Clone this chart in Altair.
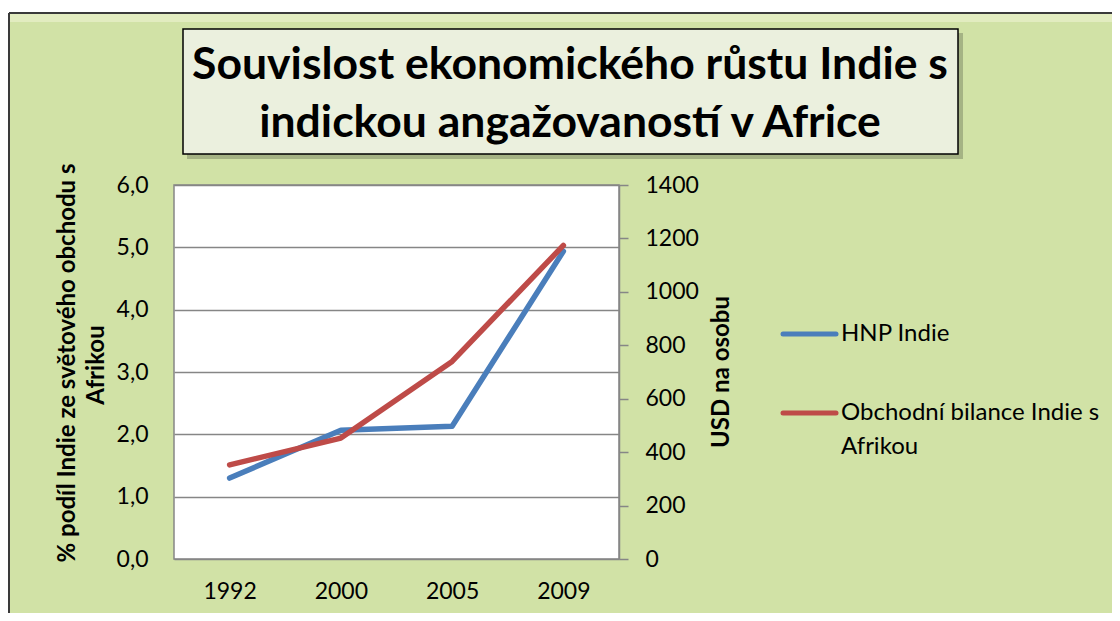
import altair as alt
import pandas as pd

# ---- data ----
YEARS = ["1992", "2000", "2005", "2009"]
HNP_USD = [303, 482, 497, 1152]          # HNP Indie (right axis, USD na osobu)
SHARE_PCT = [1.51, 1.94, 3.17, 5.03]     # Obchodní bilance Indie s Afrikou (left axis, %)
SERIES = ["HNP Indie", "Obchodní bilance Indie s Afrikou"]
SERIES_LABEL_LINES = [["HNP Indie"], ["Obchodní bilance Indie s", "Afrikou"]]
COLORS = ["#4A7EBB", "#BE4B48"]
LEFT_TICKS = [0, 1, 2, 3, 4, 5, 6]
RIGHT_TICKS = [0, 200, 400, 600, 800, 1000, 1200, 1400]
TITLE_LINES = ["Souvislost ekonomického růstu Indie s", "indickou angažovaností v Africe"]
LEFT_TITLE = ["% podíl Indie ze světového obchodu s", "Afrikou"]
RIGHT_TITLE = "USD na osobu"

FONT = "Lato"
GRID = "#868686"
BG = "#D1E2A6"

df = pd.DataFrame({"year": YEARS, "hnp": HNP_USD, "share": SHARE_PCT})

W, H = 445, 374


def one(text):
    return pd.DataFrame({"t": [text]})


x_enc = alt.X("year:N", sort=YEARS, title=None,
              scale=alt.Scale(type="point", padding=0.5),
              axis=alt.Axis(labelAngle=0, labelFont=FONT, labelFontSize=23,
                            labelColor="black", labelPadding=21, ticks=False,
                            tickSize=0, domain=False, grid=False))

# right-axis series (blue), drawn first
blue = alt.Chart(df).mark_line(strokeWidth=5.5, strokeCap="round", strokeJoin="round",
                               color=COLORS[0]).encode(
    x=x_enc,
    y=alt.Y("hnp:Q", title=None,
            scale=alt.Scale(domain=[0, 1400], nice=False, zero=True),
            axis=alt.Axis(orient="right", values=RIGHT_TICKS, grid=False, format="d",
                          ticks=True, tickSize=9, tickColor=GRID, tickWidth=1.5,
                          domain=True, domainColor=GRID, domainWidth=1.5,
                          labelFont=FONT, labelFontSize=23, labelColor="black",
                          labelPadding=17)),
)

# left-axis series (red)
red = alt.Chart(df).mark_line(strokeWidth=5.5, strokeCap="round", strokeJoin="round",
                              color=COLORS[1]).encode(
    x=x_enc,
    y=alt.Y("share:Q", title=None,
            scale=alt.Scale(domain=[0, 6], nice=False, zero=True),
            axis=alt.Axis(orient="left", values=LEFT_TICKS, grid=True,
                          gridColor=GRID, gridWidth=1.5, ticks=False, tickSize=0,
                          domain=False, labelFont=FONT, labelFontSize=23,
                          labelColor="black", labelPadding=26,
                          labelExpr="replace(format(datum.value, '.1f'), '.', ',')")),
)

lines = alt.layer(blue, red).resolve_scale(y="independent")

# ---- decorations ----
deco = []
# white strip above frame and frame border / bevel
deco.append(alt.Chart(one("")).mark_rect(color="white").encode(
    x=alt.value(-170), x2=alt.value(940), y=alt.value(-178), y2=alt.value(-172)))
deco.append(alt.Chart(one("")).mark_rect(color="#E2ECC0").encode(
    x=alt.value(-164), x2=alt.value(940), y=alt.value(-171), y2=alt.value(-163)))
deco.append(alt.Chart(one("")).mark_rule(color="#3a3a3a", strokeWidth=2).encode(
    x=alt.value(-165), x2=alt.value(940), y=alt.value(-172)))
deco.append(alt.Chart(one("")).mark_rule(color="#3a3a3a", strokeWidth=2).encode(
    x=alt.value(-165), y=alt.value(-172), y2=alt.value(440)))

# title box with shadow
deco.append(alt.Chart(one("")).mark_rect(color="#6f7a5a", opacity=0.45).encode(
    x=alt.value(13), x2=alt.value(789), y=alt.value(-152), y2=alt.value(-26)))
deco.append(alt.Chart(one("")).mark_rect(fill="#EBF0DE", stroke="black", strokeWidth=1.5).encode(
    x=alt.value(9), x2=alt.value(784), y=alt.value(-156), y2=alt.value(-31)))
for i, (line, yb) in enumerate(zip(TITLE_LINES, [-106, -48])):
    deco.append(alt.Chart(one(line)).mark_text(font=FONT, fontSize=44.5, fontWeight="bold",
                                                 color="black", align="center",
                                                 baseline="alphabetic").encode(
        x=alt.value(396), y=alt.value(yb), text="t:N"))

# left axis title (two lines, rotated)
for line, xv, yv in zip(LEFT_TITLE, [-106, -77], [178, 180]):
    deco.append(alt.Chart(one(line)).mark_text(font=FONT, fontSize=24, fontWeight="bold",
                                                 color="black", angle=270, align="center",
                                                 baseline="middle").encode(
        x=alt.value(xv), y=alt.value(yv), text="t:N"))
# right axis title
deco.append(alt.Chart(one(RIGHT_TITLE)).mark_text(font=FONT, fontSize=24, fontWeight="bold",
                                                    color="black", angle=270, align="center",
                                                    baseline="middle").encode(
    x=alt.value(548), y=alt.value(187), text="t:N"))

# legend
leg_y = [149, 228]
for i, name in enumerate(SERIES):
    deco.append(alt.Chart(one(name)).mark_rule(color=COLORS[i], strokeWidth=5, strokeCap="round").encode(
        x=alt.value(609), x2=alt.value(662), y=alt.value(leg_y[i])))
    for j, part in enumerate(SERIES_LABEL_LINES[i]):
        deco.append(alt.Chart(one(part)).mark_text(font=FONT, fontSize=24, color="black",
                                                     align="left", baseline="middle").encode(
            x=alt.value(667), y=alt.value(leg_y[i] + 34 * j), text="t:N"))

chart = alt.layer(lines, *deco).properties(
    width=W, height=H,
    autosize=alt.AutoSizeParams(type="none"),
    padding={"left": 166, "top": 177, "right": 493, "bottom": 54},
).configure(background=BG).configure_view(fill="white", stroke=GRID, strokeWidth=1.5)

chart.save("out.html", embed_options={"renderer": "svg", "actions": False})
